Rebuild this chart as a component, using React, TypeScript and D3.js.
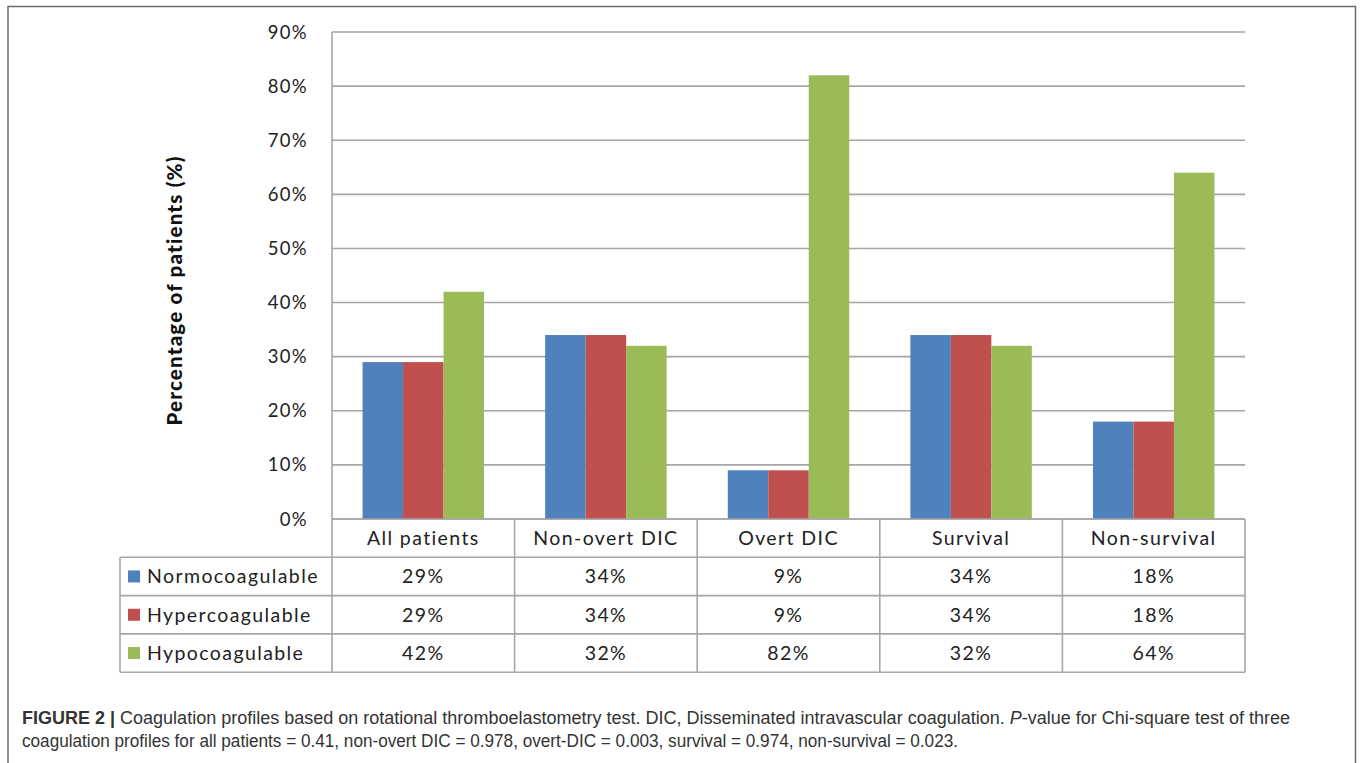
import * as d3 from "d3";

const categories = ["All patients", "Non-overt DIC", "Overt DIC", "Survival", "Non-survival"];
const seriesNames = ["Normocoagulable", "Hypercoagulable", "Hypocoagulable"];
const normo = [29, 34, 9, 34, 18];
const hyper = [29, 34, 9, 34, 18];
const hypo = [42, 32, 82, 32, 64];
const yTicks = [0, 10, 20, 30, 40, 50, 60, 70, 80, 90];
const colors = ["#4F81BD", "#C0504D", "#9BBB59"];

const series = [normo, hyper, hypo];

const W = 1360;
const H = 763;
const plot = { left: 332, right: 1245, top: 32, bottom: 519 };
const rowH = 38.3;
const legendLeft = 120;
const chartFont = "Lato, 'Open Sans', sans-serif";
const gridColor = "#a6a6a6";

export default function App() {
  const x = d3
    .scaleBand<string>()
    .domain(categories)
    .range([plot.left, plot.right])
    .paddingInner(0)
    .paddingOuter(0);
  const inner = d3
    .scaleBand<string>()
    .domain(seriesNames)
    .range([0, x.bandwidth()])
    .paddingOuter(0.755);
  const y = d3.scaleLinear().domain([0, 90]).range([plot.bottom, plot.top]);

  const tableTop = plot.bottom;
  const rowsY = [0, 1, 2, 3].map((i) => tableTop + i * rowH);
  const tableBottom = tableTop + 4 * rowH;

  const cellText = {
    fontFamily: chartFont,
    fontSize: 19.5,
    letterSpacing: 1.4,
    fill: "#222",
  };

  return (
    <svg
      width={W}
      height={H}
      style={{ position: "absolute", left: 0, top: 0, background: "#fff" }}
    >
      {/* figure frame */}
      <path d={`M8,${H + 5} V6.5 H1355.5 V${H + 5}`} fill="none" stroke="#6b6b6b" strokeWidth={1.5} />

      {/* gridlines */}
      {yTicks.map((t) => (
        <line key={t} x1={plot.left} x2={plot.right} y1={y(t)} y2={y(t)} stroke={gridColor} strokeWidth={1.6} />
      ))}
      <line x1={plot.left} x2={plot.left} y1={plot.top} y2={tableBottom} stroke={gridColor} strokeWidth={1.6} />

      {/* y tick labels */}
      {yTicks.map((t) => (
        <text
          key={t}
          x={308}
          y={y(t) + 6.5}
          textAnchor="end"
          fontFamily={chartFont}
          fontSize={18.5}
          letterSpacing={1.3}
          fill="#222"
        >
          {t}%
        </text>
      ))}

      {/* y axis title */}
      <text
        transform={`translate(182,${(plot.top + plot.bottom) / 2 + 15}) rotate(-90)`}
        textAnchor="middle"
        fontFamily={chartFont}
        fontWeight={900}
        fontSize={20.5}
        letterSpacing={1.2}
        fill="#111"
      >
        Percentage of patients (%)
      </text>

      {/* bars */}
      {categories.map((c, ci) => (
        <g key={c} transform={`translate(${x(c)},0)`}>
          {series.map((s, si) => (
            <rect
              key={si}
              x={inner(seriesNames[si])}
              y={y(s[ci])}
              width={inner.bandwidth()}
              height={y(0) - y(s[ci])}
              fill={colors[si]}
            />
          ))}
        </g>
      ))}

      {/* data table */}
      <g stroke={gridColor} strokeWidth={1.6} fill="none">
        {rowsY.slice(1).map((ry, i) => (
          <line key={i} x1={legendLeft} x2={plot.right} y1={ry} y2={ry} />
        ))}
        <line x1={plot.left} x2={plot.right} y1={tableTop} y2={tableTop} />
        <line x1={legendLeft} x2={plot.right} y1={tableBottom} y2={tableBottom} />
        <line x1={legendLeft} x2={legendLeft} y1={rowsY[1]} y2={tableBottom} />
        {categories.map((c) => (
          <line key={c} x1={(x(c) || 0) + x.bandwidth()} x2={(x(c) || 0) + x.bandwidth()} y1={tableTop} y2={tableBottom} />
        ))}
      </g>

      {categories.map((c) => (
        <text
          key={c}
          x={(x(c) || 0) + x.bandwidth() / 2}
          y={tableTop + rowH / 2 + 7}
          textAnchor="middle"
          {...cellText}
        >
          {c}
        </text>
      ))}

      {seriesNames.map((name, si) => (
        <g key={name}>
          <rect x={128} y={rowsY[si + 1] + rowH / 2 - 6} width={12} height={12} fill={colors[si]} />
          <text x={147} y={rowsY[si + 1] + rowH / 2 + 7} {...cellText}>
            {name}
          </text>
          {categories.map((c, ci) => (
            <text
              key={c}
              x={(x(c) || 0) + x.bandwidth() / 2}
              y={rowsY[si + 1] + rowH / 2 + 7}
              textAnchor="middle"
              {...cellText}
            >
              {series[si][ci]}%
            </text>
          ))}
        </g>
      ))}

      {/* caption */}
      <g fontFamily="'Liberation Sans', Arial, sans-serif" fontSize={17.5} fill="#333">
        <text x={22} y={724} textLength={1268} lengthAdjust="spacingAndGlyphs">
          <tspan fontWeight="bold">FIGURE 2 | </tspan>
          Coagulation profiles based on rotational thromboelastometry test. DIC, Disseminated intravascular coagulation.{" "}
          <tspan fontStyle="italic">P</tspan>-value for Chi-square test of three
        </text>
        <text x={22} y={747} textLength={936} lengthAdjust="spacingAndGlyphs">
          coagulation profiles for all patients = 0.41, non-overt DIC = 0.978, overt-DIC = 0.003, survival = 0.974,
          non-survival = 0.023.
        </text>
      </g>
    </svg>
  );
}
